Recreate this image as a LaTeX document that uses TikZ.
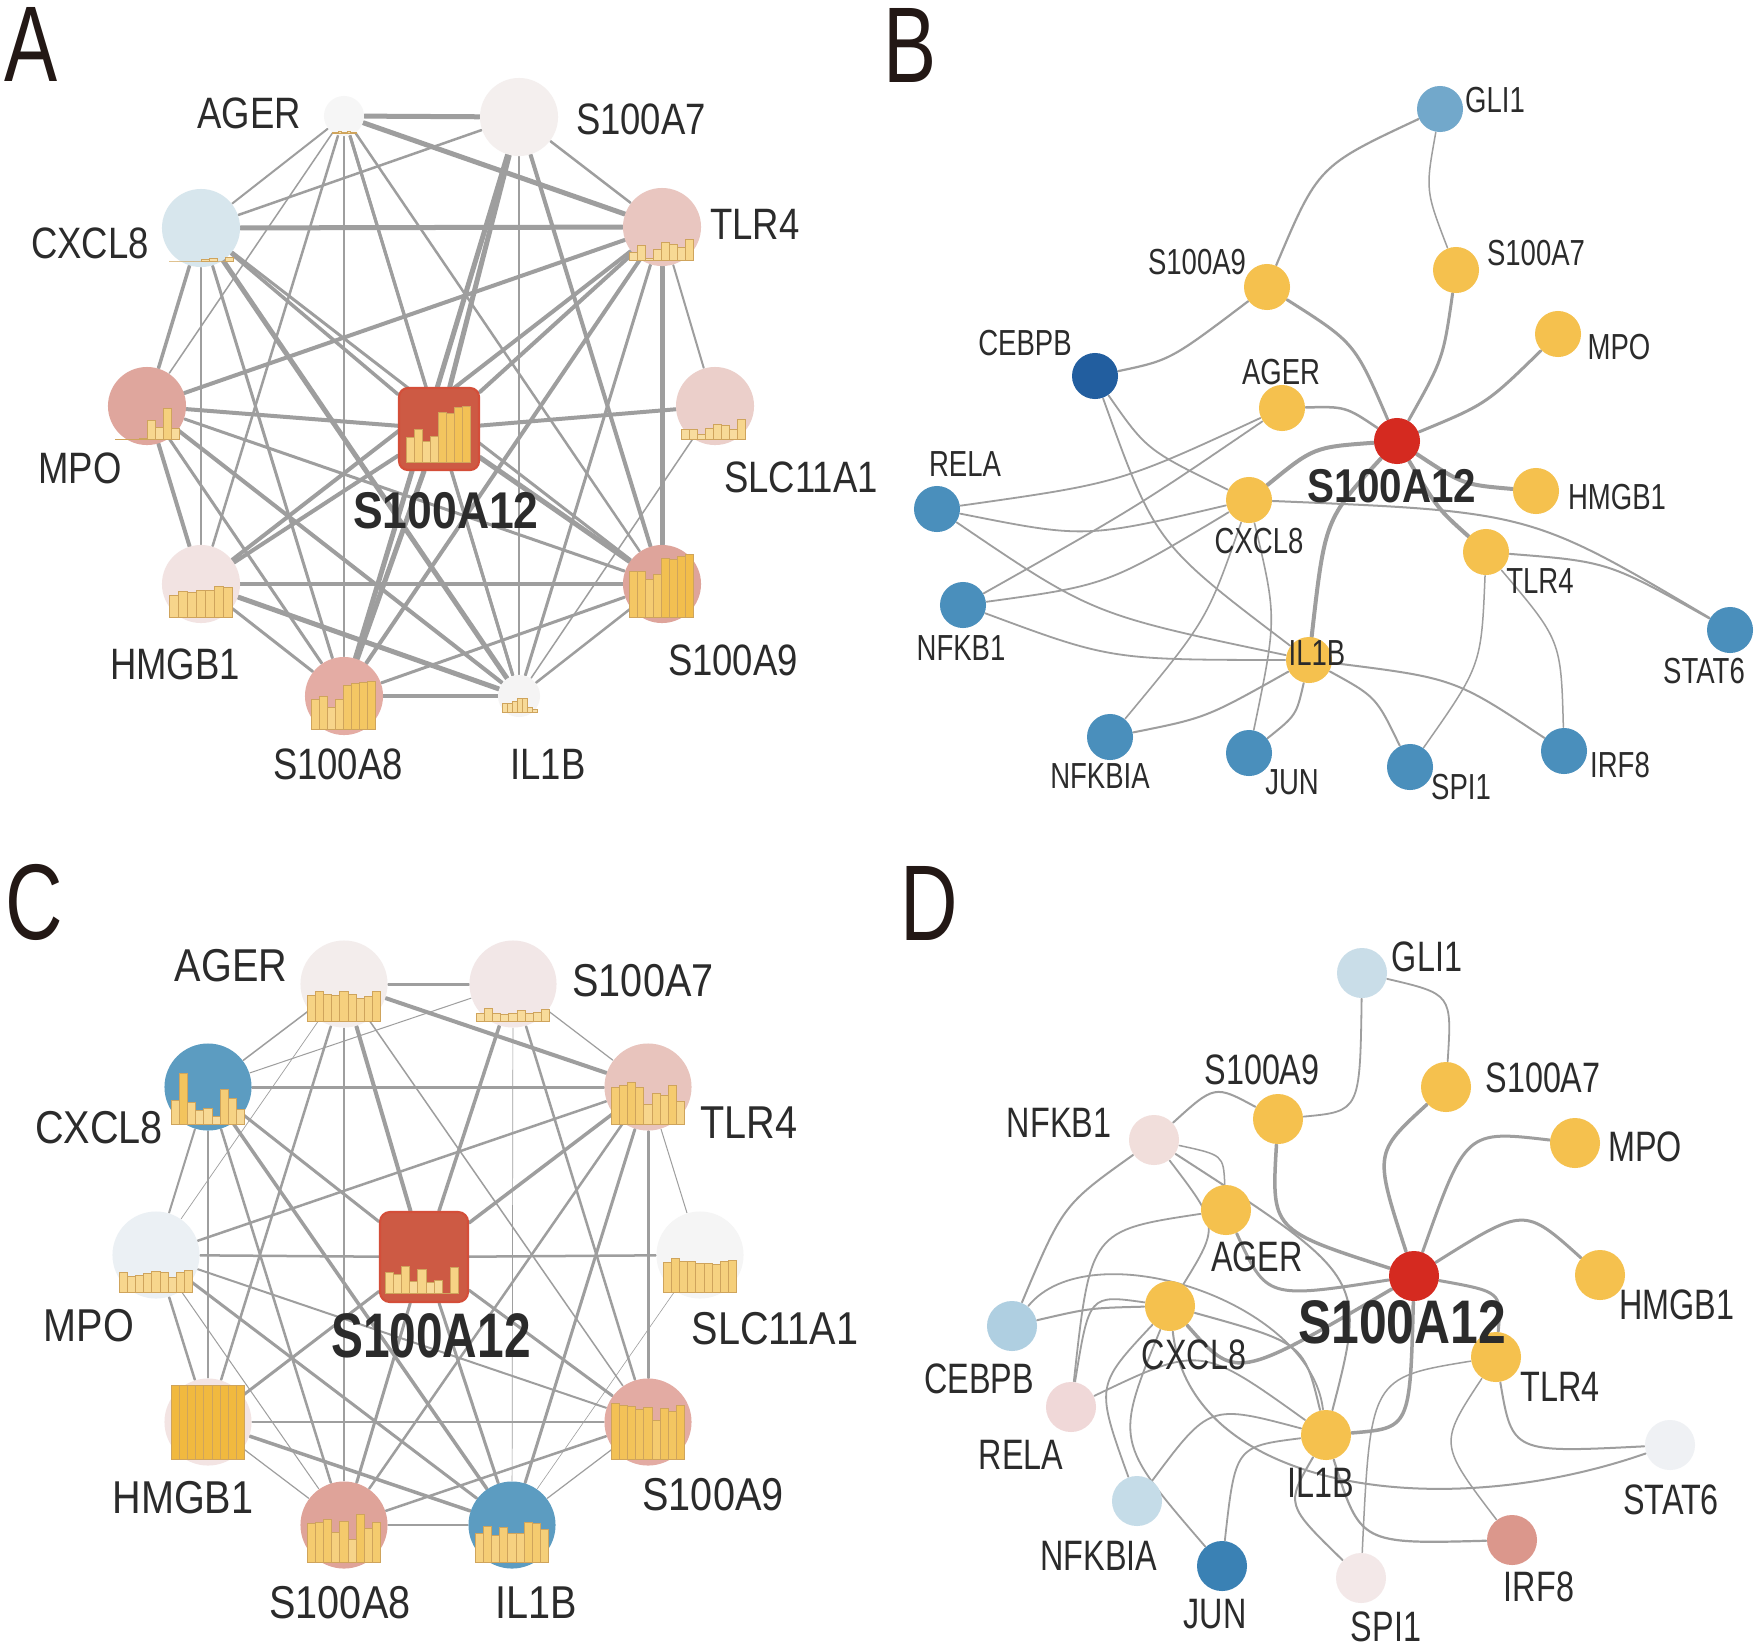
\documentclass[tikz,border=0pt]{standalone}
\usepackage{fontspec}
\setmainfont{Liberation Sans}
\newfontfamily\fLet{Liberation Sans}[FakeStretch=0.74]
\newfontfamily\fA{Liberation Sans}[FakeStretch=0.83]
\newfontfamily\fB{Liberation Sans}[FakeStretch=0.76]
\newfontfamily\fC{Liberation Sans}[FakeStretch=0.86]
\newfontfamily\fD{Liberation Sans}[FakeStretch=0.76]
\newfontfamily\gA{Liberation Sans}[FakeStretch=0.86]
\newfontfamily\gB{Liberation Sans}[FakeStretch=0.85]
\newfontfamily\gC{Liberation Sans}[FakeStretch=0.76]
\newfontfamily\gD{Liberation Sans}[FakeStretch=0.81]
\usetikzlibrary{calc}
\pgfdeclarelayer{bgwhite}
\pgfdeclarelayer{edges}
\pgfsetlayers{bgwhite,edges,main}
\definecolor{txt}{HTML}{2B2B2B}
\definecolor{letc}{HTML}{231815}
\definecolor{edgeC}{HTML}{9E9E9E}
\definecolor{barLo}{HTML}{F9E2AD}
\definecolor{barHi}{HTML}{F1B93F}
\definecolor{barEd}{HTML}{CFA45C}
\definecolor{sqFill}{HTML}{CD5A44}
\definecolor{sqDraw}{HTML}{D44E39}
% panel A
\definecolor{cAa}{HTML}{F6F6F6}
\definecolor{cAs7}{HTML}{F4EFEE}
\definecolor{cAtlr}{HTML}{E9C6C0}
\definecolor{cAslc}{HTML}{EBCFCA}
\definecolor{cAs9}{HTML}{DEA49B}
\definecolor{cAil}{HTML}{F5F4F4}
\definecolor{cAs8}{HTML}{E4ACA4}
\definecolor{cAhm}{HTML}{F2E3E2}
\definecolor{cAmpo}{HTML}{DFA69D}
\definecolor{cAcx}{HTML}{D7E6ED}
% panel C
\definecolor{cCa}{HTML}{F3EDEC}
\definecolor{cCs7}{HTML}{F2E7E7}
\definecolor{cCtlr}{HTML}{E8C4BD}
\definecolor{cCslc}{HTML}{F5F5F5}
\definecolor{cCs9}{HTML}{E3ABA3}
\definecolor{cCil}{HTML}{5C9CC1}
\definecolor{cCs8}{HTML}{DFA399}
\definecolor{cChm}{HTML}{F3E4E3}
\definecolor{cCmpo}{HTML}{EBF0F4}
\definecolor{cCcx}{HTML}{5C9CC1}
% panels B, D
\definecolor{yel}{HTML}{F5C14E}
\definecolor{bblue}{HTML}{4A8FBC}
\definecolor{bgli}{HTML}{72A8CB}
\definecolor{bceb}{HTML}{225E9F}
\definecolor{redn}{HTML}{D52A20}
\definecolor{dgli}{HTML}{C9DDE8}
\definecolor{dnfkb}{HTML}{F1DEDB}
\definecolor{dceb}{HTML}{AFCFE1}
\definecolor{drela}{HTML}{F0D8D8}
\definecolor{dstat}{HTML}{EFF1F4}
\definecolor{dnfkbia}{HTML}{C5DCE8}
\definecolor{dirf}{HTML}{DB978C}
\definecolor{djun}{HTML}{3A81B4}
\definecolor{dspi}{HTML}{F3E8E8}

\newcommand\bars[4]{%
  \foreach \hh [count=\ii from 0] in {#4} {%
    \pgfmathtruncatemacro\pp{min(100,round(\hh/70*100))}%
    \filldraw[fill=barHi!\pp!barLo, draw=barEd, line width=0.25pt] ({#1+\ii*#3},#2) rectangle ++(#3,-\hh);
  }}
\newcommand\cv[4][1.8]{\draw[edg=#1] (#2) .. controls ($1.33333*(#4)-0.166667*(#2)-0.166667*(#3)$) .. (#3);}

\tikzset{
  nd/.style={circle, inner sep=0pt, minimum size={#1*0.02cm}, draw=none},
  sq/.style={rectangle, rounded corners=0.09cm, fill=sqFill, draw=sqDraw, line width=0.6pt, inner sep=0pt},
  edg/.style={draw=edgeC, line width={#1*0.2845pt}, line cap=round},
  plet/.style={inner sep=0pt, anchor=base west, text=letc, font=\fLet\fontsize{30.6}{34}\selectfont},
  tA/.style={inner sep=0pt, text=txt, font=\fA\fontsize{12.5}{15}\selectfont},
  tB/.style={inner sep=0pt, text=txt, font=\fB\fontsize{10.3}{12}\selectfont},
  tC/.style={inner sep=0pt, text=txt, font=\fC\fontsize{13.1}{15}\selectfont},
  tD/.style={inner sep=0pt, text=txt, font=\fD\fontsize{12.1}{14}\selectfont},
  hA/.style={inner sep=0pt, text=txt, font=\gA\bfseries\fontsize{14.7}{17}\selectfont},
  hB/.style={inner sep=0pt, text=txt, font=\gB\bfseries\fontsize{13.5}{16}\selectfont},
  hC/.style={inner sep=0pt, text=txt, font=\gC\bfseries\fontsize{17.9}{20}\selectfont},
  hD/.style={inner sep=0pt, text=txt, font=\gD\bfseries\fontsize{17.5}{20}\selectfont},
}

\begin{document}
\begin{tikzpicture}[x=0.01cm,y=-0.01cm]
\useasboundingbox (0,0) rectangle (1755,1645);
\begin{pgfonlayer}{bgwhite}
\fill[white] (0,0) rectangle (1755,1645);
\end{pgfonlayer}

% ================= panel letters
\node[plet] (LA) at (4,81) {A};
\node[plet] (LB) at (883,82) {B};
\node[plet] (LC) at (5,939) {C};
\node[plet] (LD) at (900,940) {D};

% ================= PANEL A
\node[nd=20, fill=cAa] (aAGER) at (344,116) {};
\node[nd=39, fill=cAs7] (aS7) at (519,117) {};
\node[nd=39, fill=cAtlr] (aTLR4) at (662,227) {};
\node[nd=39, fill=cAslc] (aSLC) at (715,406) {};
\node[nd=39, fill=cAs9] (aS9) at (662,584) {};
\node[nd=21, fill=cAil] (aIL1B) at (519,696) {};
\node[nd=39, fill=cAs8] (aS8) at (344,696) {};
\node[nd=39, fill=cAhm] (aHMGB1) at (201,584) {};
\node[nd=39, fill=cAmpo] (aMPO) at (147,406) {};
\node[nd=39, fill=cAcx] (aCXCL8) at (201,228) {};
\node[sq, minimum width=0.8cm, minimum height=0.82cm] (aS12) at (439,429) {};

\begin{pgfonlayer}{edges}
\foreach \u/\v/\w in {aAGER/aS7/5, aAGER/aTLR4/5, aAGER/aCXCL8/2, aAGER/aMPO/1.5, aAGER/aHMGB1/2.5, aAGER/aS8/2.5, aAGER/aS12/3, aAGER/aIL1B/3, aAGER/aS9/2.5,
 aS7/aCXCL8/2.5, aS7/aTLR4/2.5, aS7/aS12/5, aS7/aS8/5, aS7/aIL1B/2, aS7/aS9/4,
 aCXCL8/aTLR4/5, aCXCL8/aMPO/3.5, aCXCL8/aHMGB1/2, aCXCL8/aS8/3, aCXCL8/aIL1B/5, aCXCL8/aS12/3.5, aCXCL8/aS9/3,
 aMPO/aTLR4/4, aMPO/aS12/4, aMPO/aHMGB1/4, aMPO/aS8/3, aMPO/aIL1B/4, aMPO/aS9/3,
 aSLC/aS12/4, aSLC/aIL1B/1.5, aTLR4/aSLC/2,
 aHMGB1/aTLR4/4, aHMGB1/aS12/4, aHMGB1/aS9/4, aHMGB1/aS8/3, aHMGB1/aIL1B/5,
 aS8/aTLR4/4, aS8/aS12/5, aS8/aS9/3, aS8/aIL1B/4,
 aIL1B/aTLR4/3, aIL1B/aS12/3, aIL1B/aS9/2.5,
 aS9/aTLR4/5, aS9/aS12/5, aTLR4/aS12/4}
 \draw[edg=\w] (\u) -- (\v);
\end{pgfonlayer}

\bars{332}{133}{3}{1,1,1.5,1,1,2,1,1}
\bars{629}{260}{8}{8,15,2,11,18,16,13,21}
\bars{681}{439}{8}{10,10,5,11,15,14,10,20}
\bars{629}{617}{8}{46,46,38,43,59,58,61,63}
\bars{502}{712}{5}{9,9,11,14,14,5,3}
\bars{311}{729}{8}{30,33,22,30,44,46,47,48}
\bars{169}{617}{9}{22,26,25,27,27,31,30}
\bars{115}{439}{8}{0,0,0,1,19,12,31,11}
\bars{169}{261}{8}{0,0,0,0,2,3,0,4}
\bars{406}{462}{8}{25,33,21,26,50,49,55,56}

\node[tA] (tAa) at (249,113) {AGER};
\node[tA] (tAs7) at (641,119) {S100A7};
\node[tA] (tAtlr) at (755,224) {TLR4};
\node[tA] (tAcx) at (90,243) {CXCL8};
\node[tA] (tAmpo) at (80,468) {MPO};
\node[tA] (tAslc) at (801,477) {SLC11A1};
\node[tA] (tAhm) at (175,664) {HMGB1};
\node[tA] (tAs9) at (733,660) {S100A9};
\node[tA] (tAs8) at (338,764) {S100A8};
\node[tA] (tAil) at (548,764) {IL1B};
\node[hA] (tAs12) at (446,511) {S100A12};

% ================= PANEL C
\node[nd=43.5, fill=cCa] (cAGER) at (344,984) {};
\node[nd=43.5, fill=cCs7] (cS7) at (513,984) {};
\node[nd=43.5, fill=cCtlr] (cTLR4) at (648,1087) {};
\node[nd=43.5, fill=cCslc] (cSLC) at (700,1255) {};
\node[nd=43.5, fill=cCs9] (cS9) at (648,1422) {};
\node[nd=43.5, fill=cCil] (cIL1B) at (512,1525) {};
\node[nd=43.5, fill=cCs8] (cS8) at (344,1525) {};
\node[nd=43.5, fill=cChm] (cHMGB1) at (208,1422) {};
\node[nd=43.5, fill=cCmpo] (cMPO) at (156,1255) {};
\node[nd=43.5, fill=cCcx] (cCXCL8) at (208,1087) {};
\node[sq, rounded corners=0.1cm, minimum width=0.88cm, minimum height=0.9cm] (cS12) at (424,1257) {};

\begin{pgfonlayer}{edges}
\foreach \u/\v/\w in {cAGER/cS7/3, cAGER/cTLR4/4, cAGER/cCXCL8/1.5, cAGER/cMPO/0.7, cAGER/cHMGB1/2.5, cAGER/cS8/1.2, cAGER/cS12/4, cAGER/cS9/1.5,
 cS7/cCXCL8/1, cS7/cTLR4/1.2, cS7/cS12/3.5, cS7/cIL1B/0.7, cS7/cS9/2.5,
 cCXCL8/cTLR4/3, cCXCL8/cMPO/2, cCXCL8/cHMGB1/1.5, cCXCL8/cS12/3, cCXCL8/cIL1B/3.5, cCXCL8/cS8/2.5,
 cMPO/cTLR4/2.5, cMPO/cS12/2.5, cS12/cSLC/2.5, cMPO/cHMGB1/2.5, cMPO/cS8/1, cMPO/cIL1B/3, cMPO/cS9/2,
 cHMGB1/cS12/3, cHMGB1/cS9/2, cHMGB1/cIL1B/3.5, cHMGB1/cS8/1.2,
 cS8/cTLR4/2.5, cS8/cS9/2.5, cS8/cIL1B/1.5, cS8/cS12/3,
 cIL1B/cS12/3, cIL1B/cTLR4/3, cIL1B/cS9/1.2, cIL1B/cSLC/0.6,
 cS9/cTLR4/3, cS9/cS12/3, cTLR4/cSLC/1, cTLR4/cS12/3.5}
 \draw[edg=\w] (\u) -- (\v);
\end{pgfonlayer}

\bars{307}{1021}{8.2}{26,30,27,26,30,27,23,25,30}
\bars{476}{1021}{8.2}{8,13,8,7,8,11,8,9,12}
\bars{611}{1124}{8.2}{37,39,42,37,20,31,29,39,23}
\bars{663}{1292}{8.2}{30,34,31,31,29,29,28,31,32}
\bars{611}{1459}{8.2}{56,54,53,50,52,39,51,48,54}
\bars{475}{1562}{8.2}{29,36,27,35,29,29,40,39,33}
\bars{307}{1562}{8.2}{39,40,43,30,41,23,48,34,40}
\bars{171}{1459}{8.2}{74,74,74,74,74,74,74,74,74}
\bars{119}{1292}{8.2}{20,16,17,19,21,20,15,20,22}
\bars{171}{1124}{8.2}{24,51,22,14,16,8,35,26,15}
\bars{385}{1293}{8.2}{21,19,27,12,24,11,13,0,26}

\node[tC] (tCa) at (231,966) {AGER};
\node[tC] (tCs7) at (643,981) {S100A7};
\node[tC] (tCtlr) at (749,1123) {TLR4};
\node[tC] (tCcx) at (99,1128) {CXCL8};
\node[tC] (tCmpo) at (89,1326) {MPO};
\node[tC] (tCslc) at (775,1329) {SLC11A1};
\node[tC] (tChm) at (183,1498) {HMGB1};
\node[tC] (tCs9) at (713,1495) {S100A9};
\node[tC] (tCs8) at (340,1603) {S100A8};
\node[tC] (tCil) at (536,1603) {IL1B};
\node[hC] (tCs12) at (431,1336) {S100A12};

% ================= PANEL B
\node[nd=23, fill=bgli] (bGLI) at (1440,109) {};
\node[nd=23, fill=yel] (bS7) at (1456,270) {};
\node[nd=23, fill=yel] (bS9) at (1267,287) {};
\node[nd=23, fill=bceb] (bCEBPB) at (1095,376) {};
\node[nd=23, fill=yel] (bMPO) at (1558,334) {};
\node[nd=23, fill=yel] (bAGER) at (1282,408) {};
\node[nd=23, fill=redn] (bS12) at (1397,441) {};
\node[nd=23, fill=yel] (bHMGB1) at (1536,491) {};
\node[nd=23, fill=bblue] (bRELA) at (937,509) {};
\node[nd=23, fill=yel] (bCXCL8) at (1249,500) {};
\node[nd=23, fill=yel] (bTLR4) at (1486,552) {};
\node[nd=23, fill=bblue] (bNFKB1) at (963,605) {};
\node[nd=23, fill=bblue] (bSTAT6) at (1730,630) {};
\node[nd=23, fill=yel] (bIL1B) at (1309,660) {};
\node[nd=23, fill=bblue] (bNFKBIA) at (1110,737) {};
\node[nd=23, fill=bblue] (bJUN) at (1249,753) {};
\node[nd=23, fill=bblue] (bSPI1) at (1410,767) {};
\node[nd=23, fill=bblue] (bIRF8) at (1564,751) {};

\begin{pgfonlayer}{edges}
\cv[2.2]{bGLI}{bS9}{1327,174}
\cv[1.5]{bGLI}{bS7}{1431,190}
\cv[2.2]{bS9}{bCEBPB}{1173,353}
\cv[3]{bS9}{bS12}{1349,348}
\cv[3]{bS7}{bS12}{1439,358}
\cv[3]{bMPO}{bS12}{1484,400}
\cv[2.5]{bAGER}{bS12}{1344,411}
\cv[4]{bHMGB1}{bS12}{1464,480}
\cv[4]{bTLR4}{bS12}{1439,506}
\cv[4]{bCXCL8}{bS12}{1316,453}
\cv[4]{bIL1B}{bS12}{1332,527}
\cv[1.8]{bCEBPB}{bCXCL8}{1153,447}
\cv[1.8]{bCEBPB}{bIL1B}{1167,537}
\cv[1.8]{bAGER}{bRELA}{1117,477}
\cv[1.8]{bAGER}{bNFKB1}{1133,507}
\cv[1.8]{bRELA}{bCXCL8}{1087,530}
\cv[1.8]{bRELA}{bIL1B}{1100,607}
\cv[1.8]{bNFKB1}{bCXCL8}{1107,577}
\cv[1.8]{bNFKB1}{bIL1B}{1117,653}
\cv[2]{bCXCL8}{bSTAT6}{1520,525}
\cv[2]{bTLR4}{bSTAT6}{1608,569}
\cv[1.6]{bCXCL8}{bNFKBIA}{1200,620}
\cv[1.6]{bCXCL8}{bJUN}{1270,620}
\cv[2]{bIL1B}{bNFKBIA}{1207,713}
\cv[2]{bIL1B}{bJUN}{1292,713}
\cv[2]{bIL1B}{bSPI1}{1372,701}
\cv[2]{bIL1B}{bIRF8}{1450,685}
\cv[1.5]{bTLR4}{bSPI1}{1473,664}
\cv[1.5]{bTLR4}{bIRF8}{1552,643}
\end{pgfonlayer}

\node[tB] (tBgli) at (1495,100) {GLI1};
\node[tB] (tBs7) at (1536,253) {S100A7};
\node[tB] (tBs9) at (1197,262) {S100A9};
\node[tB] (tBceb) at (1025,343) {CEBPB};
\node[tB] (tBmpo) at (1619,347) {MPO};
\node[tB] (tBa) at (1281,372) {AGER};
\node[hB] (tBs12) at (1392,486) {S100A12};
\node[tB] (tBhm) at (1617,497) {HMGB1};
\node[tB] (tBrela) at (965,464) {RELA};
\node[tB] (tBcx) at (1259,541) {CXCL8};
\node[tB] (tBtlr) at (1540,581) {TLR4};
\node[tB] (tBnf) at (961,648) {NFKB1};
\node[tB] (tBst) at (1704,671) {STAT6};
\node[tB] (tBil) at (1317,653) {IL1B};
\node[tB] (tBnfa) at (1100,776) {NFKBIA};
\node[tB] (tBjun) at (1292,782) {JUN};
\node[tB] (tBspi) at (1461,787) {SPI1};
\node[tB] (tBirf) at (1620,765) {IRF8};

% ================= PANEL D
\node[nd=25, fill=dgli] (dGLI) at (1362,973) {};
\node[nd=25, fill=yel] (dS7) at (1446,1087) {};
\node[nd=25, fill=yel] (dS9) at (1278,1119) {};
\node[nd=25, fill=dnfkb] (dNFKB1) at (1154,1140) {};
\node[nd=25, fill=yel] (dMPO) at (1575,1143) {};
\node[nd=25, fill=yel] (dAGER) at (1226,1210) {};
\node[nd=25, fill=redn] (dS12) at (1414,1276) {};
\node[nd=25, fill=yel] (dHMGB1) at (1600,1275) {};
\node[nd=25, fill=dceb] (dCEBPB) at (1012,1326) {};
\node[nd=25, fill=yel] (dCXCL8) at (1170,1306) {};
\node[nd=25, fill=yel] (dTLR4) at (1496,1357) {};
\node[nd=25, fill=drela] (dRELA) at (1071,1407) {};
\node[nd=25, fill=yel] (dIL1B) at (1326,1435) {};
\node[nd=25, fill=dstat] (dSTAT6) at (1670,1445) {};
\node[nd=25, fill=dnfkbia] (dNFKBIA) at (1137,1501) {};
\node[nd=25, fill=dirf] (dIRF8) at (1512,1540) {};
\node[nd=25, fill=djun] (dJUN) at (1222,1566) {};
\node[nd=25, fill=dspi] (dSPI1) at (1361,1578) {};

\begin{pgfonlayer}{edges}
\cv[1.8]{dGLI}{dS9}{1350,1095}
\cv[1.8]{dGLI}{dS7}{1440,1003}
\cv[2]{dS9}{dNFKB1}{1215,1096}
\cv[3.5]{dS9}{dS12}{1290,1222}
\cv[3.5]{dS7}{dS12}{1388,1160}
\cv[3]{dMPO}{dS12}{1473,1150}
\cv[3]{dHMGB1}{dS12}{1520,1224}
\cv[3]{dAGER}{dS12}{1280,1285}
\cv[3.5]{dCXCL8}{dS12}{1250,1358}
\cv[3]{dTLR4}{dS12}{1490,1298}
\cv[3.5]{dIL1B}{dS12}{1400,1410}
\cv[2]{dNFKB1}{dCEBPB}{1068,1212}
\cv[1.5]{dNFKB1}{dAGER}{1215,1160}
\cv[2]{dNFKB1}{dIL1B}{1335,1280}
\cv[1.8]{dNFKB1}{dCXCL8}{1205,1225}
\cv[1.8]{dRELA}{dAGER}{1105,1250}
\cv[2]{dCEBPB}{dCXCL8}{1090,1310}
\draw[edg=1.8] (dCEBPB) .. controls (1090,1230) and (1310,1300) .. (dIL1B);
\cv[1.8]{dRELA}{dCXCL8}{1097,1310}
\cv[1.8]{dRELA}{dIL1B}{1200,1364}
\cv[1.8]{dNFKBIA}{dCXCL8}{1110,1390}
\cv[1.8]{dJUN}{dCXCL8}{1135,1440}
\cv[1.8]{dJUN}{dIL1B}{1245,1460}
\cv[1.8]{dNFKBIA}{dIL1B}{1215,1420}
\cv[2]{dIL1B}{dSPI1}{1300,1505}
\cv[2.2]{dIL1B}{dIRF8}{1375,1530}
\cv[1.5]{dSPI1}{dTLR4}{1385,1400}
\cv[1.5]{dIRF8}{dTLR4}{1455,1445}
\cv[2]{dTLR4}{dSTAT6}{1530,1440}
\draw[edg=2] (dCXCL8) .. controls (1190,1490) and (1440,1525) .. (dSTAT6);
\cv[2]{dCXCL8}{dIL1B}{1290,1350}
\end{pgfonlayer}

\node[tD] (tDgli) at (1427,957) {GLI1};
\node[tD] (tDs7) at (1543,1078) {S100A7};
\node[tD] (tDs9) at (1262,1070) {S100A9};
\node[tD] (tDnf) at (1059,1123) {NFKB1};
\node[tD] (tDmpo) at (1645,1147) {MPO};
\node[tD] (tDa) at (1257,1257) {AGER};
\node[hD] (tDs12) at (1402,1322) {S100A12};
\node[tD] (tDhm) at (1677,1305) {HMGB1};
\node[tD] (tDceb) at (979,1379) {CEBPB};
\node[tD] (tDcx) at (1194,1355) {CXCL8};
\node[tD] (tDtlr) at (1560,1387) {TLR4};
\node[tD] (tDrela) at (1021,1455) {RELA};
\node[tD] (tDil) at (1321,1483) {IL1B};
\node[tD] (tDst) at (1671,1500) {STAT6};
\node[tD] (tDnfa) at (1099,1556) {NFKBIA};
\node[tD] (tDirf) at (1539,1587) {IRF8};
\node[tD] (tDjun) at (1215,1614) {JUN};
\node[tD] (tDspi) at (1386,1627) {SPI1};
\end{tikzpicture}
\end{document}
